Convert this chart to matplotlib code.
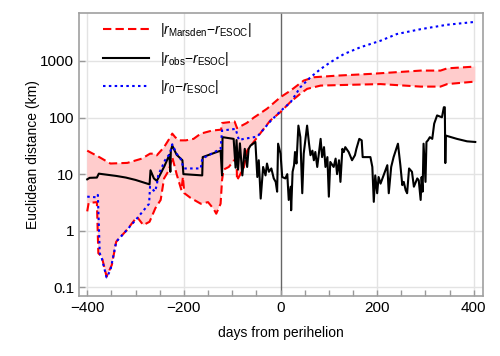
import matplotlib
matplotlib.use("Agg")
import matplotlib.pyplot as plt
import numpy as np

plt.rcParams['font.family'] = ['Liberation Sans', 'DejaVu Sans']
plt.rcParams['mathtext.fontset'] = 'custom'
plt.rcParams['mathtext.rm'] = 'Liberation Sans'
plt.rcParams['mathtext.it'] = 'Liberation Sans:italic'
plt.rcParams['mathtext.bf'] = 'Liberation Sans:bold'

# Marsden upper envelope
up_days = [-400, -375, -352, -317, -287, -270, -262, -256, -241, -228, -224, -218, -210, -196,
           -180, -165, -141, -123, -121, -95, -90, -70, -55, -28, 0, 21, 48, 69, 117, 186,
           290, 331, 345, 403]
up_vals = [26, 20, 15.4, 15.8, 18.8, 23, 23, 21.5, 30, 45, 52, 45, 39.5, 39.5,
           42, 52, 59, 61, 80, 85, 65, 80, 100, 143, 229, 300, 450, 515, 550, 590,
           675, 675, 740, 795]

# Marsden lower envelope
lo_days = [-400, -397, -380, -377, -370, -360, -349, -340, -318, -297, -284, -271, -259, -248,
           -241, -231, -224, -215, -205, -202, -199, -186, -165, -150, -138, -133, -124, -121,
           -118, -107, -96, -91, -90, -83, -76, -69, -48, -21, 0, 21, 41, 55, 83, 151, 207,
           290, 331, 345, 403]
lo_vals = [2.2, 3.1, 3.2, 0.4, 0.35, 0.155, 0.25, 0.64, 1.03, 1.76, 1.26, 1.44, 2.5, 3.5,
           8.4, 11.7, 20, 10, 5.2, 8.9, 4.6, 3.8, 3.0, 3.2, 2.4, 2.0, 3.0, 7.8,
           12, 13.4, 17.6, 17.6, 7.8, 10, 13, 26, 45, 89, 125, 190, 263, 321, 367, 380, 390,
           352, 352, 390, 432]

# r0 - ESOC
r0_days = [-400, -380, -378, -374, -370, -360, -352, -340, -318, -297, -272, -270, -260, -256,
           -253, -239, -229, -224, -215, -207, -200, -165, -162, -124, -121, -93, -86, -76,
           -48, -21, 0, 21, 41, 62, 83, 103, 131, 165, 207, 241, 290, 345, 403]
r0_vals = [4.0, 3.9, 4.3, 0.4, 0.33, 0.15, 0.2, 0.64, 1.03, 1.65, 3.0, 6.0, 4.9, 6.4,
           9.6, 17.6, 23, 33.7, 23, 18.8, 12.6, 12.6, 18.8, 28, 59, 63, 40, 42,
           46, 86, 130, 187, 343, 515, 720, 945, 1320, 1740, 2275, 2990, 3640, 4360, 4900]

# r_obs - ESOC
obs_days = [-400, -395, -380, -376, -360, -340, -320, -300, -271, -269, -262, -256, -250, -240,
            -230, -228, -227, -224, -215, -203, -201, -162, -161, -124, -121, -120, -97, -95,
            -93, -91, -88, -84, -79, -74, -69, -66, -62, -52, -48, -45, -41, -36, -31, -28,
            -24, -19, -14, -10, -7, -5, 0, 3.5, 10, 14, 17, 21, 22, 25, 28, 30, 33, 37, 41,
            45, 48, 52, 55, 59, 62, 66, 69, 72, 76, 83, 86, 90, 93, 97, 100, 103, 110, 114,
            117, 121, 124, 128, 131, 134, 141, 148, 154, 157, 163, 168, 170, 176, 186, 190,
            193, 196, 200, 203, 207, 212, 221, 224, 229, 234, 243, 248, 252, 255, 259, 262,
            266, 272, 276, 283, 286, 290, 292, 294, 296, 300, 302, 305, 309, 314, 318, 324,
            334, 338, 340, 341, 342, 365, 386, 403]
obs_vals = [8.1, 8.6, 8.7, 10.2, 9.8, 9.3, 8.7, 7.9, 6.6, 11.7, 8.4, 7.6, 9.5, 14,
            22, 11, 26, 32, 22, 17.6, 10, 9.5, 20, 26, 9.5, 45, 42, 23,
            13, 40, 12, 35, 9.5, 28, 13.4, 28, 32, 37, 8.9, 17.6, 3.7, 13.4, 9.5, 15.4,
            11, 12.6, 8.4, 7.3, 4.9, 34.5, 23, 8.9, 8.4, 10, 3.5, 6, 2.3, 11, 14.4, 24.6, 15.4, 72, 45,
            4.6, 23, 45, 72, 34.5, 21.6, 26, 17.6, 24.6, 13.4, 42, 20, 30, 13.4, 20, 4, 16.4, 13.4, 18.8,
            10, 17.6, 7.3, 28, 24.6, 30, 24.6, 17.6, 21.6, 28, 42, 39.5, 20, 20, 20, 13.4,
            3.24, 9.5, 4.6, 8.9, 6.8, 8.9, 14.4, 4.6, 13.4, 20, 34.5, 14.4, 6.4, 7.3, 5.2, 4.6,
            12.6, 11, 6, 8.4, 7.8, 3.5, 8.9, 4.9, 34.5, 7.3, 37, 39.5, 45, 42, 78, 109,
            101, 152, 152, 15.7, 48, 42, 38, 37]

labels = [r'$|r_{\mathrm{Marsden}}{-}r_{\mathrm{ESOC}}|$',
          r'$|r_{\mathrm{obs}}{-}r_{\mathrm{ESOC}}|$',
          r'$|r_{0}{-}r_{\mathrm{ESOC}}|$']

fig = plt.figure(figsize=(5.0, 3.56), dpi=100)
ax = fig.add_axes([0.158, 0.1685, 0.808, 0.795])
ax.set_yscale('log')
ax.set_xlim(-417, 419)
ax.set_ylim(0.0703, 7030)

# grid
for gx in [-400, -200, 200, 400]:
    ax.axvline(gx, color='#e3e3e3', lw=1, zorder=0)
for gy in [0.1, 1, 10, 100, 1000]:
    ax.axhline(gy, color='#e3e3e3', lw=1, zorder=0)
ax.axvline(0, color='#666666', lw=1, zorder=1)

poly_x = np.concatenate([up_days, lo_days[::-1]])
poly_y = np.concatenate([up_vals, lo_vals[::-1]])
ax.fill(poly_x, poly_y, color='#ffcccc', lw=0, zorder=1)

ax.plot(up_days, up_vals, color='#ff0000', lw=1.5, dashes=(4, 2), zorder=3, label=labels[0])
ax.plot(lo_days, lo_vals, color='#ff0000', lw=1.5, dashes=(4, 2), zorder=3)
ax.plot(obs_days, obs_vals, color='black', lw=1.5, zorder=4, label=labels[1])
ax.plot(r0_days, r0_vals, color='#0000ff', lw=1.5, dashes=(1.2, 1.6), zorder=5, label=labels[2])

ax.set_xticks([-400, -200, 0, 200, 400])
ax.set_xticks(np.arange(-400, 401, 50), minor=True)
ax.set_yticks([0.1, 1, 10, 100, 1000])
ax.set_yticklabels(['0.1', '1', '10', '100', '1000'])
ax.yaxis.set_minor_locator(matplotlib.ticker.NullLocator())
ax.tick_params(axis='both', which='both', direction='in', color='#999999', labelsize=11,
               labelcolor='black')
ax.tick_params(axis='x', which='both', length=4, width=1, top=False)
ax.tick_params(axis='y', which='both', length=4, width=1, right=False)
for s in ax.spines.values():
    s.set_color('#a0a0a0')
    s.set_linewidth(1.2)

ax.set_xlabel('days from perihelion', fontsize=10, labelpad=8)
ax.set_ylabel('Euclidean distance (km)', fontsize=10, labelpad=0)

leg = ax.legend(loc='upper left', frameon=False, fontsize=10, handlelength=3.3,
                labelspacing=0.75, borderaxespad=0.2, bbox_to_anchor=(0.04, 1.0))

fig.savefig('out.png', dpi=100)
